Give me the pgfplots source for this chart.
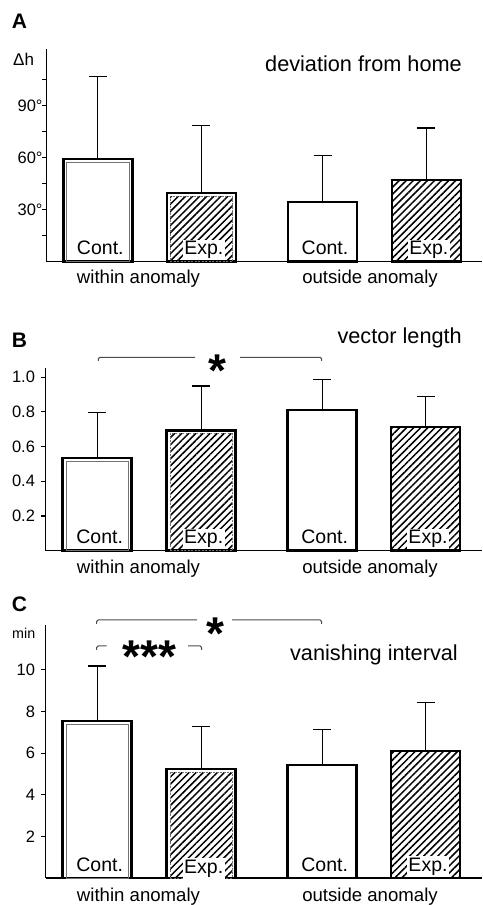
\documentclass[border=0pt]{standalone}
\usepackage{pgfplots}
\pgfplotsset{compat=1.18}
\usepackage{fontspec}
\setmainfont{Liberation Sans}
\usetikzlibrary{patterns.meta}
\newcommand{\fs}[1]{\fontsize{#1}{#1}\selectfont}
\pgfplotsset{
  panel/.style={
    scale only axis, axis lines=left, axis line style={-, line width=1.2pt, black},
    xmin=0, xtick=\empty, ymin=0, clip=false,
    tick align=outside, ytick pos=left, major tick length=4.5pt,
    every tick/.style={line width=1.1pt, black},
    yticklabel style={font=\fs{16.5}, inner sep=0pt, xshift=-6pt},
  },
  outerbar/.style={ybar, bar width=69pt, bar shift=0pt, draw=black, line width=2.5pt, fill=white},
  hatchbar/.style={ybar, bar width=69pt, bar shift=0pt, draw=black, line width=2.5pt,
    pattern={Lines[angle=45,distance=5pt,line width=1.5pt]}},
  innerplain/.style={ybar, bar width=62.4pt, bar shift=0pt, draw=black!55, line width=0.9pt, fill=none},
  innerhatchfill/.style={ybar, bar width=62.4pt, bar shift=0pt, draw=none,
    pattern={Lines[angle=45,distance=5pt,line width=1.5pt]}},
  innerhatchline/.style={ybar, bar width=62.4pt, bar shift=0pt, draw=black!55, line width=0.9pt,
    dash pattern=on 2pt off 1.5pt, fill=none},
  errs/.style={error bars/.cd, y dir=plus, y explicit,
    error bar style={line width=1.1pt, black, solid},
    error mark options={rotate=90, mark size=9pt, line width=1.1pt, black, solid}},
}
\begin{document}
\begin{tikzpicture}[x=1pt,y=1pt]
\useasboundingbox (0,0) rectangle (482,905);
% ---------------- Panel A ----------------
\begin{axis}[panel, at={(46.7pt,643.3pt)}, anchor=south west,
  width=435.3pt, height=212.7pt, xmax=435.3, ymax=122.7,
  ytick={15,30,45,60,75,90,105},
  yticklabels={,30\rlap{°},,60\rlap{°},,90\rlap{°},}]
\addplot[outerbar, errs] coordinates {(51.1,59.1) +- (0,47.9)};
\addplot[innerplain] coordinates {(51.1,57.2)};
\addplot[outerbar, errs] coordinates {(154.6,39.6) +- (0,38.9)};
\addplot[innerhatchfill] coordinates {(154.6,37.7)};
\addplot[innerhatchline] coordinates {(154.6,37.7)};
\addplot[outerbar, errs] coordinates {(275.8,34.3) +- (0,26.9)};
\addplot[hatchbar, errs] coordinates {(379.6,47.0) +- (0,30.1)};
\node[font=\fs{19.5}, anchor=base, yshift=7pt] at (axis cs:53.6,0) {Cont.};
\node[font=\fs{19.5}, anchor=base, yshift=7pt, fill=white, inner sep=1.5pt] at (axis cs:157.1,0) {Exp.};
\node[font=\fs{19.5}, anchor=base, yshift=7pt] at (axis cs:278.3,0) {Cont.};
\node[font=\fs{19.5}, anchor=base, yshift=7pt, fill=white, inner sep=1.5pt] at (axis cs:382.1,0) {Exp.};
\end{axis}
% ---------------- Panel B ----------------
\begin{axis}[panel, at={(45.7pt,354.3pt)}, anchor=south west,
  width=436.3pt, height=182.4pt, xmax=436.3, ymax=1.051,
  ytick={0.2,0.4,0.6,0.8,1.0},
  yticklabels={0.2,0.4,0.6,0.8,1.0}]
\addplot[outerbar, errs] coordinates {(51.5,0.533) +- (0,0.261)};
\addplot[innerplain] coordinates {(51.5,0.514)};
\addplot[outerbar, errs] coordinates {(155.5,0.694) +- (0,0.255)};
\addplot[innerhatchfill] coordinates {(155.5,0.675)};
\addplot[innerhatchline] coordinates {(155.5,0.675)};
\addplot[outerbar, errs] coordinates {(276.5,0.811) +- (0,0.177)};
\addplot[hatchbar, errs] coordinates {(379.8,0.713) +- (0,0.175)};
\node[font=\fs{19.5}, anchor=base, yshift=7pt] at (axis cs:54,0) {Cont.};
\node[font=\fs{19.5}, anchor=base, yshift=7pt, fill=white, inner sep=1.5pt] at (axis cs:158,0) {Exp.};
\node[font=\fs{19.5}, anchor=base, yshift=7pt] at (axis cs:279,0) {Cont.};
\node[font=\fs{19.5}, anchor=base, yshift=7pt, fill=white, inner sep=1.5pt] at (axis cs:382.3,0) {Exp.};
\end{axis}
% ---------------- Panel C ----------------
\begin{axis}[panel, at={(45.7pt,27pt)}, anchor=south west,
  width=436.3pt, height=253pt, xmax=436.3, ymax=12.16,
  ytick={2,4,6,8,10},
  yticklabels={2,4,6,8,10}]
\addplot[outerbar, errs] coordinates {(51.5,7.55) +- (0,2.64)};
\addplot[innerplain] coordinates {(51.5,7.39)};
\addplot[outerbar, errs] coordinates {(155.5,5.25) +- (0,2.01)};
\addplot[innerhatchfill] coordinates {(155.5,5.09)};
\addplot[innerhatchline] coordinates {(155.5,5.09)};
\addplot[outerbar, errs] coordinates {(276.5,5.43) +- (0,1.72)};
\addplot[hatchbar, errs] coordinates {(379.8,6.10) +- (0,2.35)};
\node[font=\fs{19.5}, anchor=base, yshift=7pt] at (axis cs:54,0) {Cont.};
\node[font=\fs{19.5}, anchor=base, yshift=5pt, fill=white, inner sep=1.5pt] at (axis cs:158,0) {Exp.};
\node[font=\fs{19.5}, anchor=base, yshift=7pt] at (axis cs:279,0) {Cont.};
\node[font=\fs{19.5}, anchor=base, yshift=7pt, fill=white, inner sep=1.5pt] at (axis cs:382.3,0) {Exp.};
\end{axis}
% ---------------- Texts ----------------
\node[font=\fs{21}\bfseries, anchor=base west, inner sep=0pt] at (11.7,876.7) {A};
\node[font=\fs{21}\bfseries, anchor=base west, inner sep=0pt] at (11.7,557.7) {B};
\node[font=\fs{21}\bfseries, anchor=base west, inner sep=0pt] at (11.7,293.3) {C};
\node[font=\fs{17}, anchor=base west, inner sep=0pt] at (13,839) {Δh};
\node[font=\fs{14.3}, anchor=base west, inner sep=0pt] at (12,266) {min};
\node[font=\fs{21.7}, anchor=base east, inner sep=0pt] at (462,833.3) {deviation from home};
\node[font=\fs{21.7}, anchor=base east, inner sep=0pt] at (462,561.7) {vector length};
\node[font=\fs{21.7}, anchor=base east, inner sep=0pt] at (458,244.3) {vanishing interval};
\foreach \yb in {621,331.7,4}{
  \node[font=\fs{18.6}, anchor=base, inner sep=0pt] at (138.5,\yb) {within anomaly};
  \node[font=\fs{18.6}, anchor=base, inner sep=0pt] at (370,\yb) {outside anomaly};
}
% significance brackets
\draw[black!70, line width=1pt, rounded corners=1.5pt] (98.3,544) -- (98.3,547.7) -- (195,547.7);
\draw[black!70, line width=1pt, rounded corners=1.5pt] (240,547.7) -- (321.7,547.7) -- (321.7,544);
\node[font=\fs{46}\bfseries, anchor=base, inner sep=0pt] at (217.5,518.3) {*};
\draw[black!70, line width=1pt, rounded corners=1.5pt] (96.7,281) -- (96.7,285) -- (197,285);
\draw[black!70, line width=1pt, rounded corners=1.5pt] (232,285) -- (321.7,285) -- (321.7,281);
\node[font=\fs{46}\bfseries, anchor=base, inner sep=0pt] at (215.5,255.3) {*};
\draw[black!70, line width=1pt, rounded corners=1.5pt] (96.7,255) -- (96.7,259) -- (106.7,259);
\draw[black!70, line width=1pt, rounded corners=1.5pt] (188,259) -- (201.7,259) -- (201.7,255);
\node[font=\fs{46}\bfseries, anchor=base, inner sep=0pt] at (149.5,232.5) {***};
\end{tikzpicture}
\end{document}
